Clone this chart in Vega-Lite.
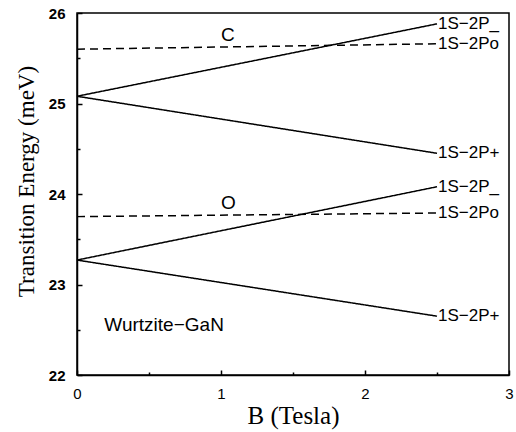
{
  "$schema": "https://vega.github.io/schema/vega-lite/v6.json",
  "width": 432,
  "height": 362,
  "autosize": {"type": "none"},
  "padding": {"left": 77, "top": 13, "right": 7, "bottom": 57},
  "background": "white",
  "config": {
    "view": {"stroke": "black", "strokeWidth": 1.5},
    "axis": {"domainColor": "black", "domainWidth": 1.5, "tickColor": "black", "tickWidth": 1.5, "grid": false, "labelColor": "black", "titleColor": "black"}
  },
  "datasets": {
    "lines": [
      {"series": "C-minus", "state": "P-", "B": 0, "E": 25.08},
      {"series": "C-minus", "state": "P-", "B": 2.5, "E": 25.88},
      {"series": "C-plus", "state": "P+", "B": 0, "E": 25.08},
      {"series": "C-plus", "state": "P+", "B": 2.5, "E": 24.45},
      {"series": "C-o", "state": "Po", "B": 0, "E": 25.6},
      {"series": "C-o", "state": "Po", "B": 2.5, "E": 25.66},
      {"series": "O-minus", "state": "P-", "B": 0, "E": 23.27},
      {"series": "O-minus", "state": "P-", "B": 2.5, "E": 24.08},
      {"series": "O-plus", "state": "P+", "B": 0, "E": 23.27},
      {"series": "O-plus", "state": "P+", "B": 2.5, "E": 22.65},
      {"series": "O-o", "state": "Po", "B": 0, "E": 23.75},
      {"series": "O-o", "state": "Po", "B": 2.5, "E": 23.79}
    ],
    "endlabels": [
      {"label": "1S−2P_", "B": 2.5, "E": 25.88},
      {"label": "1S−2Po", "B": 2.5, "E": 25.66},
      {"label": "1S−2P+", "B": 2.5, "E": 24.45},
      {"label": "1S−2P_", "B": 2.5, "E": 24.08},
      {"label": "1S−2Po", "B": 2.5, "E": 23.79},
      {"label": "1S−2P+", "B": 2.5, "E": 22.65}
    ],
    "annot": [
      {"label": "C", "B": 1.0, "E": 25.76, "size": 19},
      {"label": "O", "B": 1.0, "E": 23.9, "size": 19},
      {"label": "Wurtzite−GaN", "B": 0.19, "E": 22.55, "size": 19}
    ]
  },
  "layer": [
    {
      "data": {"name": "lines"},
      "mark": {"type": "line", "color": "black", "strokeWidth": 1.5},
      "encoding": {
        "x": {
          "field": "B", "type": "quantitative",
          "scale": {"domain": [0, 3], "nice": false},
          "axis": {
            "values": [0, 0.5, 1, 1.5, 2, 2.5, 3],
            "tickCount": 30,
            "labelExpr": "datum.value % 1 === 0 ? format(datum.value, 'd') : ''",
            "labelOverlap": false,
            "tickSize": {"condition": {"test": "datum.value % 1 === 0", "value": -5}, "value": -3},
            "labelPadding": 16,
            "labelFont": "Liberation Sans", "labelFontSize": 15, "labelFlush": false,
            "title": "B (Tesla)", "titleFont": "Liberation Serif", "titleFontSize": 25, "titleFontWeight": "normal", "titlePadding": 0
          }
        },
        "y": {
          "field": "E", "type": "quantitative",
          "scale": {"domain": [22, 26], "nice": false, "zero": false},
          "axis": {
            "values": [22, 22.5, 23, 23.5, 24, 24.5, 25, 25.5, 26],
            "tickCount": 30,
            "labelExpr": "datum.value % 1 === 0 ? format(datum.value, 'd') : ''",
            "labelOverlap": false,
            "tickSize": {"condition": {"test": "datum.value % 1 === 0", "value": -5}, "value": -3},
            "labelPadding": 17,
            "labelFont": "Liberation Sans", "labelFontSize": 15, "labelFontWeight": "bold", "labelFlush": false,
            "title": "Transition Energy (meV)", "titleFont": "Liberation Serif", "titleFontSize": 23, "titleFontWeight": "normal", "titlePadding": 10,
            "titleY": 168
          }
        },
        "detail": {"field": "series"},
        "strokeDash": {"field": "state", "type": "nominal", "scale": {"domain": ["P-", "Po", "P+"], "range": [[1, 0], [8, 5], [1, 0]]}, "legend": null}
      }
    },
    {
      "data": {"name": "endlabels"},
      "mark": {"type": "text", "align": "left", "baseline": "middle", "dx": 1, "font": "Liberation Sans", "fontSize": 17, "color": "black"},
      "encoding": {
        "x": {"field": "B", "type": "quantitative"},
        "y": {"field": "E", "type": "quantitative"},
        "text": {"field": "label"}
      }
    },
    {
      "data": {"name": "annot"},
      "mark": {"type": "text", "align": "left", "baseline": "middle", "font": "Liberation Sans", "color": "black"},
      "encoding": {
        "x": {"field": "B", "type": "quantitative"},
        "y": {"field": "E", "type": "quantitative"},
        "text": {"field": "label"},
        "size": {"field": "size", "type": "quantitative", "scale": null, "legend": null}
      }
    }
  ]
}
